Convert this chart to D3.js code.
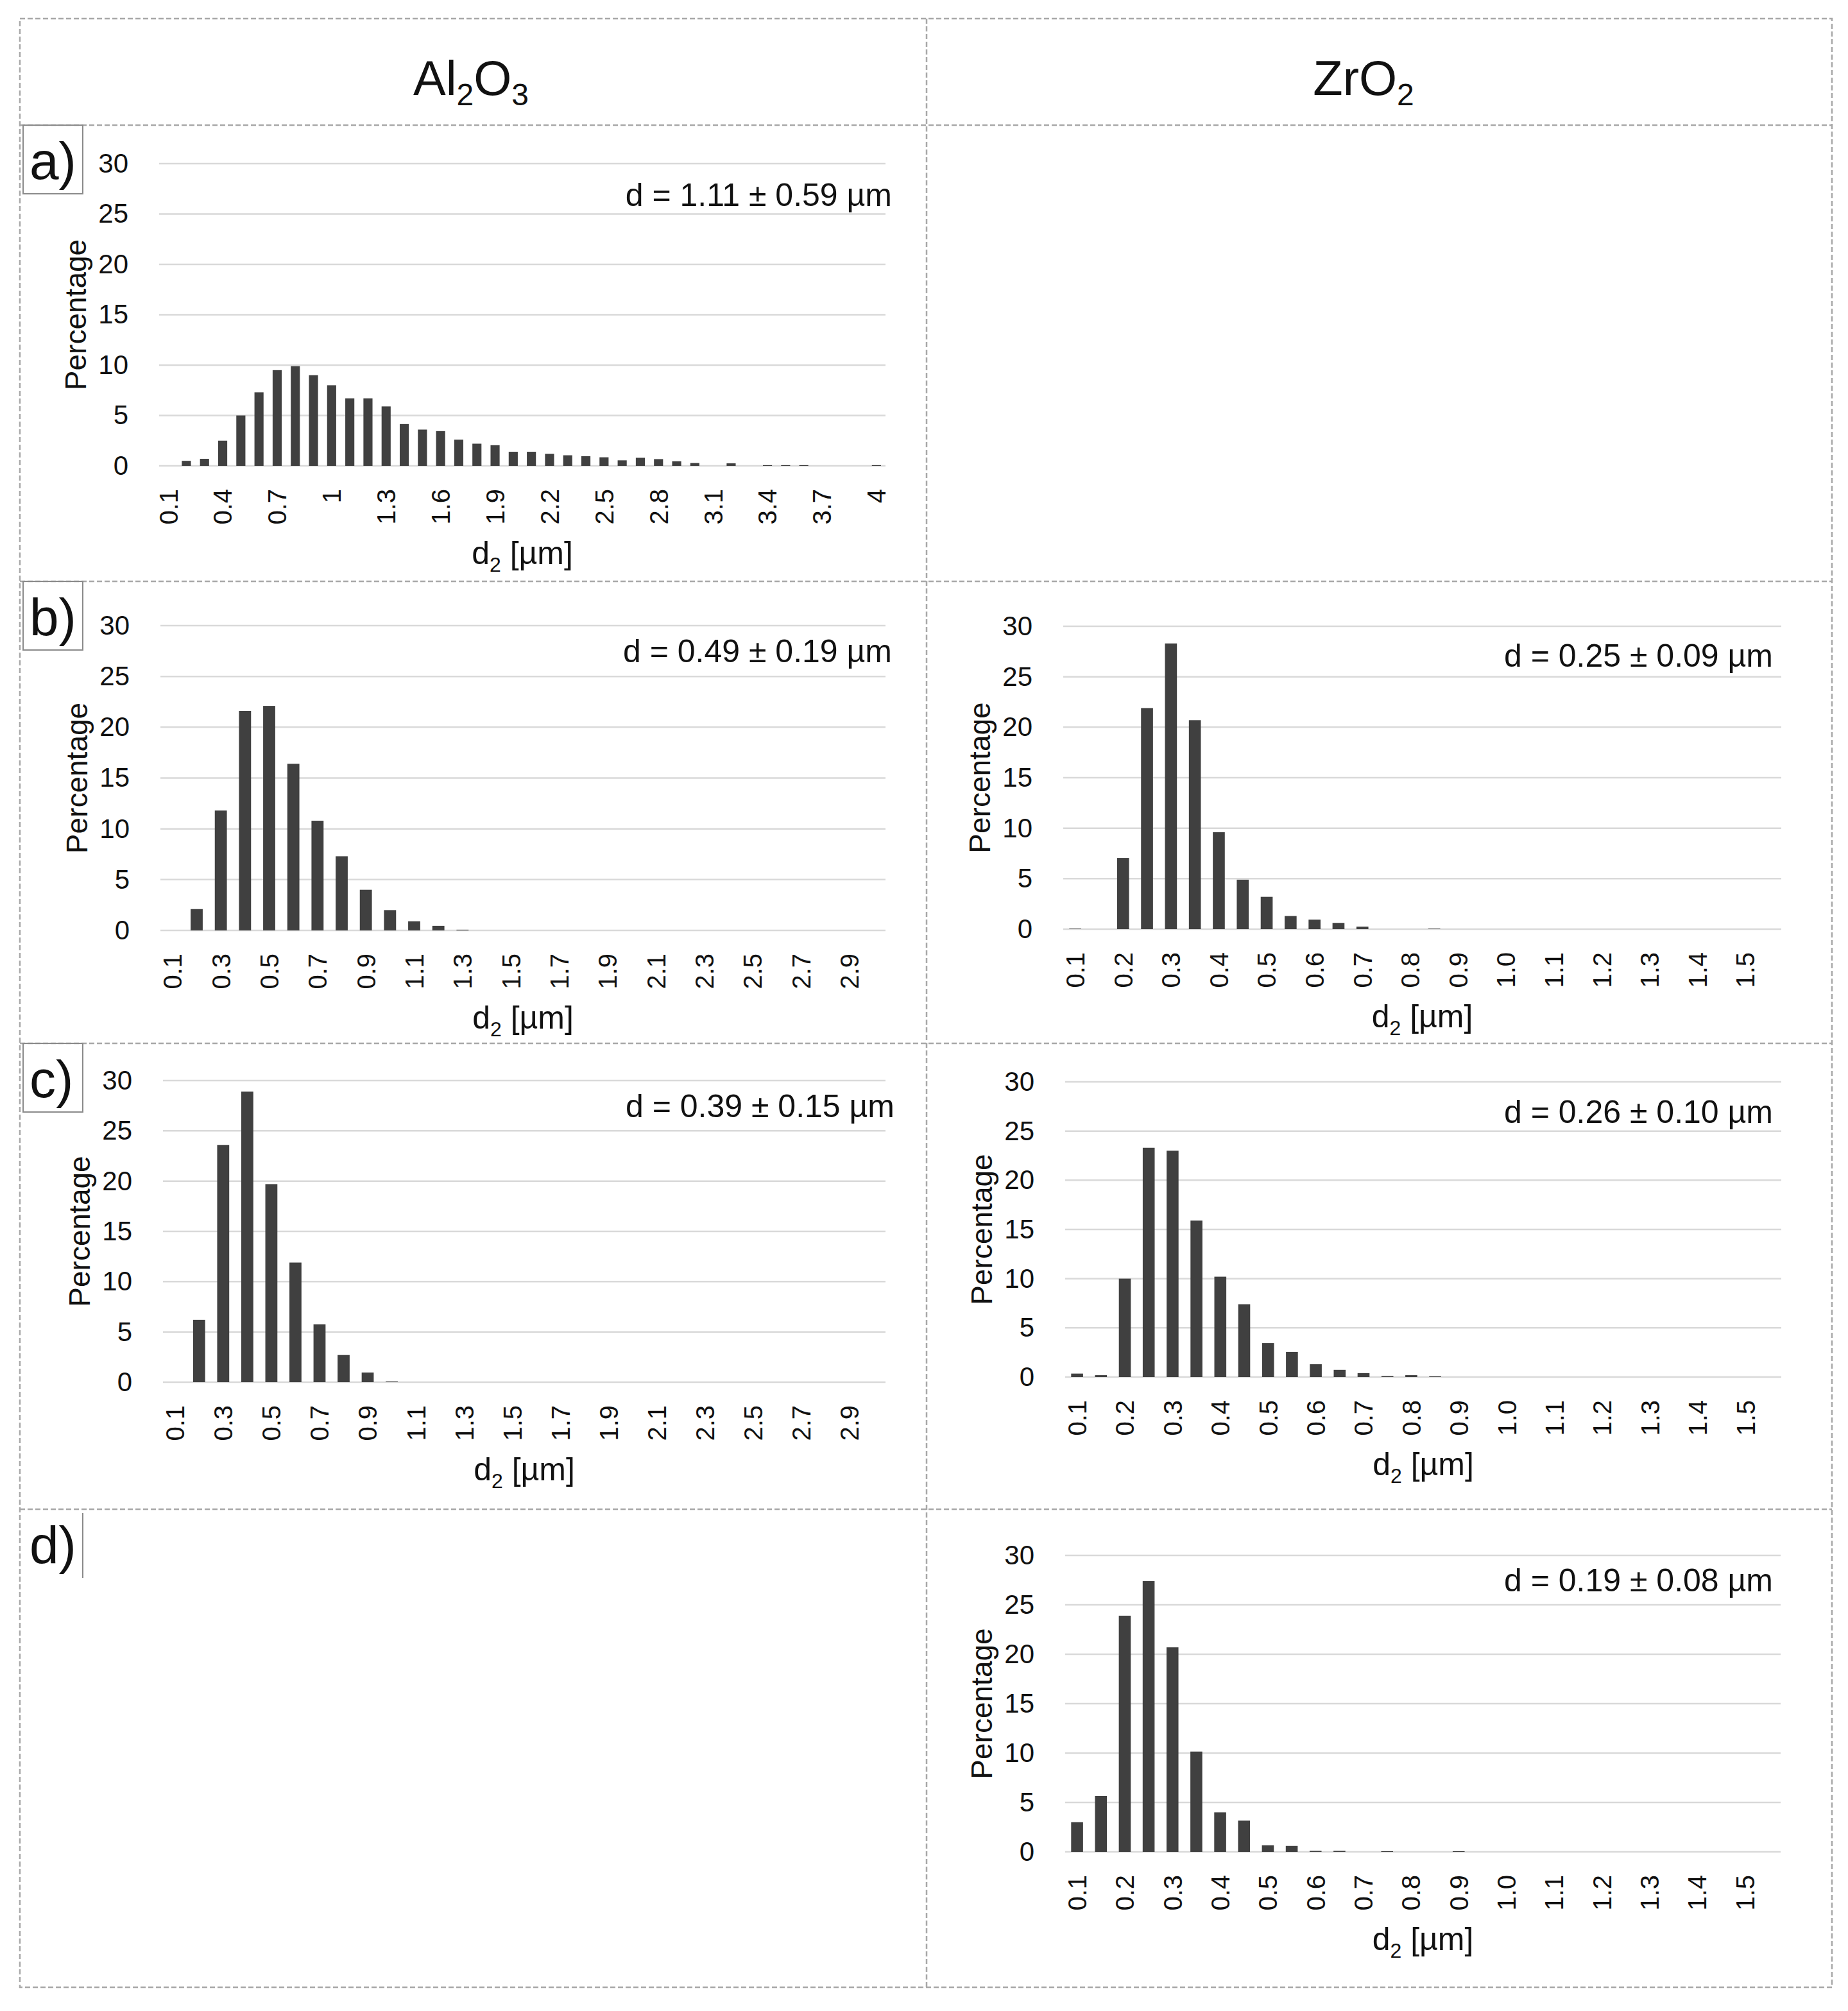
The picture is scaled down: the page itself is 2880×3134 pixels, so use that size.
<!DOCTYPE html>
<html>
<head>
<meta charset="utf-8">
<script src="https://cdnjs.cloudflare.com/ajax/libs/d3/7.8.5/d3.min.js"></script>
<style>
  body { margin: 0; background: #fff; }
  text { font-family: "Liberation Sans", Arial, sans-serif; fill: #111; }
</style>
</head>
<body>
<div id="chart"></div>
<script>
// Categories (particle size classes, µm)
var catA = [0.1, 0.2, 0.3, 0.4, 0.5, 0.6, 0.7, 0.8, 0.9, 1.0,
    1.1, 1.2, 1.3, 1.4, 1.5, 1.6, 1.7, 1.8, 1.9, 2.0,
    2.1, 2.2, 2.3, 2.4, 2.5, 2.6, 2.7, 2.8, 2.9, 3.0,
    3.1, 3.2, 3.3, 3.4, 3.5, 3.6, 3.7, 3.8, 3.9, 4.0];
var catAl = [0.1, 0.2, 0.3, 0.4, 0.5, 0.6, 0.7, 0.8, 0.9, 1.0,
    1.1, 1.2, 1.3, 1.4, 1.5, 1.6, 1.7, 1.8, 1.9, 2.0,
    2.1, 2.2, 2.3, 2.4, 2.5, 2.6, 2.7, 2.8, 2.9, 3.0];
var catZr = [0.10, 0.15, 0.20, 0.25, 0.30, 0.35, 0.40, 0.45, 0.50, 0.55,
    0.60, 0.65, 0.70, 0.75, 0.80, 0.85, 0.90, 0.95, 1.00, 1.05,
    1.10, 1.15, 1.20, 1.25, 1.30, 1.35, 1.40, 1.45, 1.50, 1.55];

// Tick labels shown on the x axes
var tickA = [0.1, 0.4, 0.7, 1.0, 1.3, 1.6, 1.9, 2.2, 2.5, 2.8, 3.1, 3.4, 3.7, 4.0];
var tickAl = [0.1, 0.3, 0.5, 0.7, 0.9, 1.1, 1.3, 1.5, 1.7, 1.9, 2.1, 2.3, 2.5, 2.7, 2.9];
var tickZr = [0.10, 0.20, 0.30, 0.40, 0.50, 0.60, 0.70, 0.80, 0.90, 1.00,
    1.10, 1.20, 1.30, 1.40, 1.50];
var yTicks = [0, 5, 10, 15, 20, 25, 30];

// Percentages
var alA = [0, 0.5, 0.7, 2.5, 5.0, 7.3, 9.5, 9.9, 9.0, 8.0,
    6.7, 6.7, 5.9, 4.15, 3.6, 3.45, 2.6, 2.2, 2.05, 1.4,
    1.4, 1.2, 1.05, 0.96, 0.85, 0.55, 0.8, 0.67, 0.45, 0.28,
    0, 0.25, 0, 0.07, 0.07, 0.07, 0, 0, 0, 0.07];
var alB = [0, 2.1, 11.8, 21.6, 22.1, 16.4, 10.8, 7.3, 4.0, 2.0,
    0.9, 0.45, 0.07, 0, 0, 0, 0, 0, 0, 0,
    0, 0, 0, 0, 0, 0, 0, 0, 0, 0];
var alC = [0, 6.2, 23.6, 28.9, 19.7, 11.9, 5.75, 2.7, 0.96, 0.07,
    0, 0, 0, 0, 0, 0, 0, 0, 0, 0,
    0, 0, 0, 0, 0, 0, 0, 0, 0, 0];
var zrB = [0.05, 0, 7.05, 21.9, 28.3, 20.7, 9.6, 4.9, 3.2, 1.3,
    0.94, 0.62, 0.25, 0, 0, 0.05, 0, 0, 0, 0,
    0, 0, 0, 0, 0, 0, 0, 0, 0, 0];
var zrC = [0.35, 0.19, 10.0, 23.3, 23.0, 15.9, 10.2, 7.4, 3.45, 2.55,
    1.3, 0.73, 0.4, 0.1, 0.19, 0.07, 0, 0, 0, 0,
    0, 0, 0, 0, 0, 0, 0, 0, 0, 0];
var zrD = [3.0, 5.65, 23.9, 27.4, 20.7, 10.15, 4.0, 3.16, 0.67, 0.6,
    0.1, 0.1, 0, 0.07, 0, 0, 0.07, 0, 0, 0,
    0, 0, 0, 0, 0, 0, 0, 0, 0, 0];

var notes = ["d = 1.11 ± 0.59 µm", "d = 0.49 ± 0.19 µm", "d = 0.39 ± 0.15 µm",
    "d = 0.25 ± 0.09 µm", "d = 0.26 ± 0.10 µm", "d = 0.19 ± 0.08 µm"];

// General figure parameters
var svgWidth = 2880;
var svgHeight = 3134;

var svg = d3.select("#chart")
    .append("svg")
    .attr("width", svgWidth)
    .attr("height", svgHeight);

svg.append("rect")
    .attr("width", svgWidth)
    .attr("height", svgHeight)
    .attr("fill", "#fff");

// Table frame (dashed)
var frame = { left: 31, right: 2855, top: 29, bottom: 3097, mid: 1444 };
var rowLines = [195, 906, 1626, 2352];

var grid = svg.append("g")
    .attr("stroke", "#a8a8a8")
    .attr("stroke-width", 2.5)
    .attr("stroke-dasharray", "8,4")
    .attr("fill", "none");

grid.append("rect")
    .attr("x", frame.left)
    .attr("y", frame.top)
    .attr("width", frame.right - frame.left)
    .attr("height", frame.bottom - frame.top);

grid.append("line")
    .attr("x1", frame.mid).attr("x2", frame.mid)
    .attr("y1", frame.top).attr("y2", frame.bottom);

grid.selectAll("line.row")
    .data(rowLines)
    .enter()
    .append("line")
    .attr("class", "row")
    .attr("x1", frame.left).attr("x2", frame.right)
    .attr("y1", d => d).attr("y2", d => d);

// Column headers
function header(x, parts) {
    var t = svg.append("text")
        .attr("x", x)
        .attr("y", 148)
        .attr("text-anchor", "middle")
        .attr("font-size", 76);
    parts.forEach(function (p) {
        t.append("tspan")
            .attr("font-size", p[1] ? 48 : 76)
            .attr("dy", p[1] ? 16 : (p[2] ? -16 : 0))
            .text(p[0]);
    });
}
header(734, [["Al", false], ["2", true], ["O", false, true], ["3", true]]);
header(2125, [["ZrO", false], ["2", true]]);

// Row labels a) - d)
var rowLabels = ["a)", "b)", "c)", "d)"];
rowLabels.forEach(function (lab, i) {
    var top = rowLines[i];
    if (i < 3) {
        svg.append("rect")
            .attr("x", 36)
            .attr("y", top)
            .attr("width", 93)
            .attr("height", 107)
            .attr("fill", "none")
            .attr("stroke", "#8a8a8a")
            .attr("stroke-width", 2);
    } else {
        svg.append("line")
            .attr("x1", 129).attr("x2", 129)
            .attr("y1", top + 6).attr("y2", top + 107)
            .attr("stroke", "#8a8a8a")
            .attr("stroke-width", 2);
    }
    svg.append("text")
        .attr("x", 46)
        .attr("y", top + 84)
        .attr("font-size", 82)
        .text(lab);
});

// Function to draw one histogram panel
function drawPanel(p) {
    var g = svg.append("g");

    var xBand = d3.scaleBand()
        .domain(p.cats)
        .range([p.left, p.right])
        .paddingInner(0.5)
        .paddingOuter(0.25);

    var yLinear = d3.scaleLinear()
        .domain([0, 30])
        .range([p.y0, p.y30]);

    // Horizontal gridlines
    g.selectAll("line.grid")
        .data(yTicks)
        .enter()
        .append("line")
        .attr("class", "grid")
        .attr("x1", p.left)
        .attr("x2", p.right)
        .attr("y1", d => yLinear(d))
        .attr("y2", d => yLinear(d))
        .attr("stroke", "#d9d9d9")
        .attr("stroke-width", 2.5);

    // Y axis labels
    var yAxis = g.append("g")
        .attr("transform", `translate(${p.left}, 0)`)
        .call(d3.axisLeft(yLinear).tickValues(yTicks).tickSize(0).tickPadding(48));
    yAxis.select(".domain").remove();
    yAxis.selectAll("text")
        .attr("font-size", 42)
        .attr("fill", "#111");

    // Bars
    g.selectAll("rect.bar")
        .data(p.values)
        .enter()
        .append("rect")
        .attr("class", "bar")
        .attr("x", (d, i) => xBand(p.cats[i]))
        .attr("width", xBand.bandwidth())
        .attr("y", d => yLinear(d))
        .attr("height", d => p.y0 - yLinear(d))
        .attr("fill", "#404040");

    // X axis labels (rotated)
    var xAxis = g.append("g")
        .attr("transform", `translate(0, ${p.y0})`)
        .call(d3.axisBottom(xBand).tickValues(p.ticks).tickFormat(p.fmt).tickSize(0));
    xAxis.select(".domain").remove();
    xAxis.selectAll("text")
        .attr("transform", "rotate(-90)")
        .attr("x", -36)
        .attr("y", 0)
        .attr("dy", "0.36em")
        .attr("text-anchor", "end")
        .attr("font-size", 40)
        .attr("fill", "#111");

    // Y axis title
    g.append("text")
        .attr("transform", `translate(${p.left - 130}, ${(p.y0 + p.y30) / 2}) rotate(-90)`)
        .attr("text-anchor", "middle")
        .attr("dy", "0.35em")
        .attr("font-size", 46)
        .text("Percentage");

    // X axis title
    var xt = g.append("text")
        .attr("x", (p.left + p.right) / 2)
        .attr("y", p.y0 + 153)
        .attr("text-anchor", "middle")
        .attr("font-size", 50);
    xt.append("tspan").text("d");
    xt.append("tspan").attr("font-size", 32).attr("dy", 12).text("2");
    xt.append("tspan").attr("dy", -12).text(" [µm]");

    // Mean size note
    g.append("text")
        .attr("x", p.noteX)
        .attr("y", p.noteY)
        .attr("text-anchor", "end")
        .attr("font-size", 50)
        .text(p.note);
}

var fmtGeneral = d => String(d);
var fmtOne = d => d.toFixed(1);

drawPanel({ cats: catA, values: alA, ticks: tickA, fmt: fmtGeneral,
    left: 248, right: 1380, y30: 255, y0: 726, note: notes[0], noteX: 1390, noteY: 321 });
drawPanel({ cats: catAl, values: alB, ticks: tickAl, fmt: fmtGeneral,
    left: 250, right: 1380, y30: 975, y0: 1450, note: notes[1], noteX: 1390, noteY: 1032 });
drawPanel({ cats: catAl, values: alC, ticks: tickAl, fmt: fmtGeneral,
    left: 254, right: 1380, y30: 1684, y0: 2154, note: notes[2], noteX: 1394, noteY: 1741 });
drawPanel({ cats: catZr, values: zrB, ticks: tickZr, fmt: fmtOne,
    left: 1657, right: 2776, y30: 976, y0: 1448, note: notes[3], noteX: 2763, noteY: 1039 });
drawPanel({ cats: catZr, values: zrC, ticks: tickZr, fmt: fmtOne,
    left: 1660, right: 2776, y30: 1686, y0: 2146, note: notes[4], noteX: 2763, noteY: 1750 });
drawPanel({ cats: catZr, values: zrD, ticks: tickZr, fmt: fmtOne,
    left: 1660, right: 2775, y30: 2424, y0: 2886, note: notes[5], noteX: 2763, noteY: 2480 });
</script>
</body>
</html>
